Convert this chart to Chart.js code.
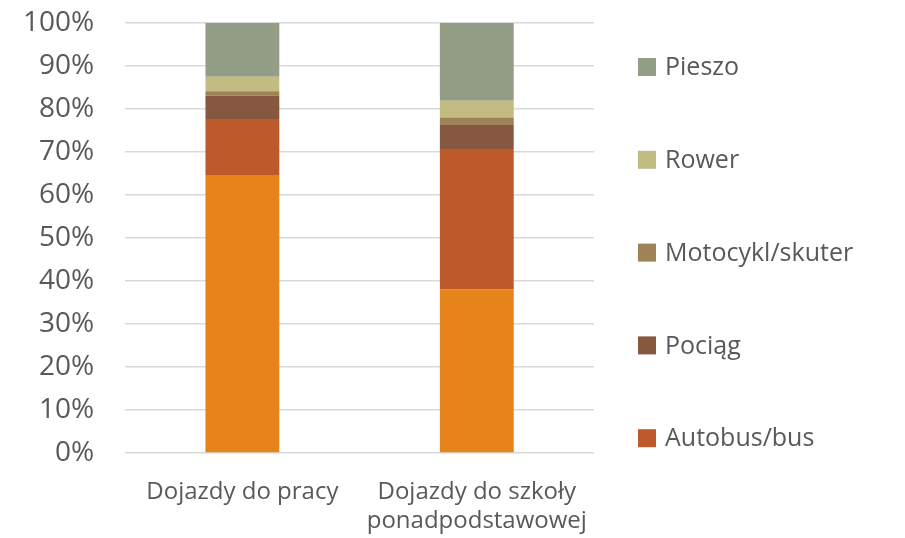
<!DOCTYPE html>
<html lang="pl">
<head>
    <meta charset="UTF-8">
    <title>Dojazdy</title>
    <script src="https://cdn.jsdelivr.net/npm/chart.js@4.4.1/dist/chart.umd.min.js"></script>
    <style>
        html, body { margin: 0; padding: 0; background: #fff; }
        #wrap { width: 905px; height: 538px; }
    </style>
</head>
<body>
<div id="wrap"><canvas id="myChart" width="905" height="538"></canvas></div>
<script>
    // categories and series (percent of trips)
    var categories = [['Dojazdy do pracy'], ['Dojazdy do szkoły', 'ponadpodstawowej']];
    var samochod = [64.5, 38.0];
    var autobus = [13.2, 32.7];
    var pociag = [5.4, 5.6];
    var motocykl = [1.0, 1.7];
    var rower = [3.4, 3.9];
    var pieszo = [12.5, 18.1];
    var yTicks = [0, 10, 20, 30, 40, 50, 60, 70, 80, 90, 100];

    var fontFamily = '"Open Sans", sans-serif';
    var textColor = '#595959';

    // legend on the right, drawn from the datasets (bottom series is cut off in the original)
    var sideLegend = {
        id: 'sideLegend',
        afterDraw: function (chart) {
            var c = chart.ctx;
            var area = chart.chartArea;
            var items = chart.data.datasets.slice(1).reverse();
            c.save();
            c.font = '25px ' + fontFamily;
            c.textBaseline = 'middle';
            c.textAlign = 'left';
            items.forEach(function (ds, i) {
                var y = area.top + 44 + i * 92.8;
                c.fillStyle = ds.backgroundColor;
                c.fillRect(area.right + 44, y - 9, 18, 18);
                c.fillStyle = textColor;
                c.fillText(ds.label, area.right + 71, y + 1);
            });
            c.restore();
        }
    };

    function drawChart() {
        var ctx = document.getElementById('myChart').getContext('2d');
        new Chart(ctx, {
            type: 'bar',
            data: {
                labels: categories,
                datasets: [
                    { label: 'Samochód', data: samochod, backgroundColor: '#E6831A' },
                    { label: 'Autobus/bus', data: autobus, backgroundColor: '#BD592B' },
                    { label: 'Pociąg', data: pociag, backgroundColor: '#86583F' },
                    { label: 'Motocykl/skuter', data: motocykl, backgroundColor: '#9D8355' },
                    { label: 'Rower', data: rower, backgroundColor: '#C3BC82' },
                    { label: 'Pieszo', data: pieszo, backgroundColor: '#949D85' }
                ]
            },
            plugins: [sideLegend],
            options: {
                responsive: false,
                animation: false,
                layout: { padding: { top: 23, right: 311, left: 21, bottom: 0 } },
                datasets: { bar: { barPercentage: 0.315, categoryPercentage: 1.0, borderWidth: 0 } },
                scales: {
                    x: {
                        stacked: true,
                        // invisible tick marks only keep the labels away from the axis
                        grid: { color: 'transparent', drawOnChartArea: false, drawTicks: true, tickLength: 23 },
                        border: { display: false },
                        ticks: {
                            color: textColor,
                            font: { family: fontFamily, size: 24, lineHeight: '29px' },
                            padding: 2,
                            autoSkip: false,
                            minRotation: 0,
                            maxRotation: 0
                        }
                    },
                    y: {
                        stacked: true,
                        min: 0,
                        max: 100,
                        afterBuildTicks: function (axis) {
                            axis.ticks = yTicks.map(function (v) { return { value: v }; });
                        },
                        grid: { color: '#D9D9D9', lineWidth: 1.5, drawTicks: true, tickLength: 29, tickColor: 'transparent' },
                        border: { display: false },
                        ticks: {
                            color: textColor,
                            font: { family: fontFamily, size: 28 },
                            padding: 2,
                            callback: function (v) { return v + '%'; }
                        }
                    }
                },
                plugins: {
                    tooltip: { enabled: false },
                    legend: { display: false }
                }
            }
        });
    }

    document.fonts.load('25px "Open Sans"').then(drawChart, drawChart);
</script>
</body>
</html>
